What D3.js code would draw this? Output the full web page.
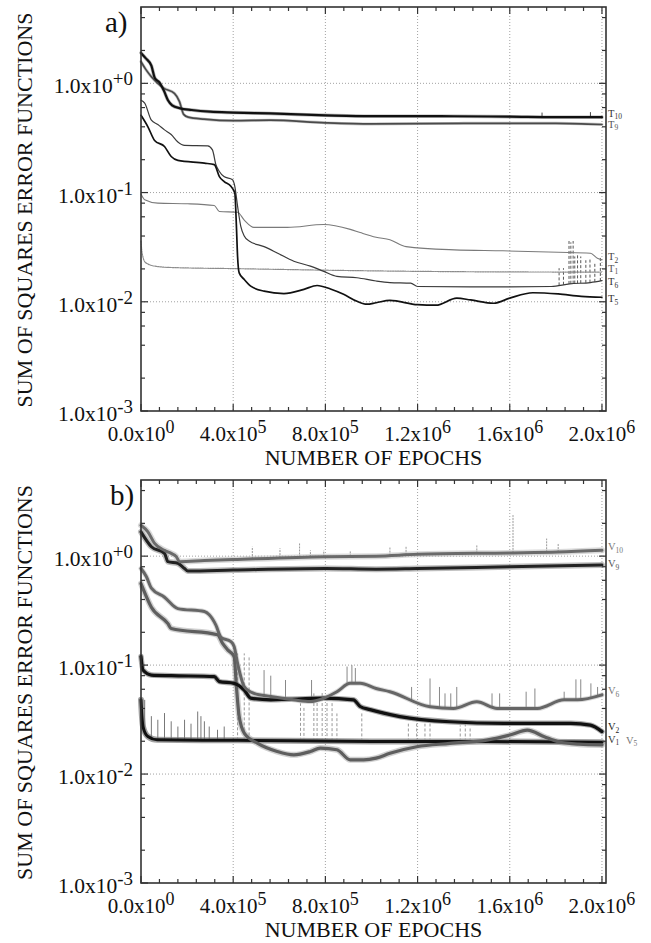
<!doctype html>
<html>
<head>
<meta charset="utf-8">
<script src="https://d3js.org/d3.v7.min.js"></script>
<style>
    body { margin: 0; background: #fff; }
    svg text { fill: #111; }
    .grid line { stroke: #8a8a8a; stroke-width: 0.8; stroke-dasharray: 1,2; }
    .frame { fill: none; stroke: #333; stroke-width: 1.6; }
    .tick { stroke: #333; stroke-width: 1.2; }
    .curve { fill: none; stroke-linejoin: round; stroke-linecap: round; }
</style>
</head>
<body>
<svg width="651" height="943"></svg>
<script>
// ---- axis ticks / labels ----
var xTickValues = [0, 4e5, 8e5, 1.2e6, 1.6e6, 2e6];
var xTickMantissa = ["0.0", "4.0", "8.0", "1.2", "1.6", "2.0"];
var xTickExp = ["0", "5", "5", "6", "6", "6"];
var yTickValues = [1e-3, 1e-2, 1e-1, 1];
var yTickExp = ["-3", "-2", "-1", "+0"];

// ---- panel a: training errors [epoch, error] ----
var T10 = [[0,1.9],[2e4,1.7],[4.5e4,1.45],[6e4,1.12],[8e4,1.02],[1.0e5,0.85],[1.17e5,0.70],[1.35e5,0.63],[1.7e5,0.59],[2.2e5,0.57],[3e5,0.55],[4e5,0.54],[5.6e5,0.53],[8e5,0.51],[1.0e6,0.50],[1.3e6,0.50],[1.6e6,0.495],[1.8e6,0.49],[2e6,0.49]];
var T9 = [[0,1.58],[2e4,1.35],[4.5e4,1.15],[7.3e4,1.0],[1.0e5,0.9],[1.45e5,0.81],[1.67e5,0.68],[1.85e5,0.52],[2.05e5,0.49],[2.75e5,0.47],[4e5,0.455],[5.6e5,0.46],[8e5,0.435],[1.0e6,0.425],[1.4e6,0.43],[1.8e6,0.43],[2e6,0.42]];
var T2 = [[0,0.097],[1.6e4,0.086],[7.3e4,0.080],[2.03e5,0.079],[3.18e5,0.076],[3.4e5,0.067],[4.19e5,0.066],[4.48e5,0.056],[4.9e5,0.048],[6.35e5,0.048],[7.93e5,0.051],[9.08e5,0.046],[9.51e5,0.043],[1.02e6,0.039],[1.08e6,0.037],[1.15e6,0.032],[1.36e6,0.0299],[1.57e6,0.0293],[1.81e6,0.0284],[1.95e6,0.0278],[1.98e6,0.025],[2e6,0.0242]];
var T1 = [[0,0.036],[3e3,0.030],[8e3,0.026],[1.5e4,0.0235],[3e4,0.0222],[6e4,0.0212],[1.3e5,0.0206],[4.2e5,0.0201],[1.0e6,0.0192],[1.5e6,0.0188],[2e6,0.0187]];
var T6 = [[0,0.70],[1.6e4,0.66],[4.5e4,0.46],[7.3e4,0.42],[1.02e5,0.375],[1.31e5,0.34],[1.6e5,0.29],[1.89e5,0.27],[2.9e5,0.268],[3.1e5,0.246],[3.25e5,0.18],[3.4e5,0.156],[3.6e5,0.14],[3.97e5,0.131],[4.07e5,0.114],[4.19e5,0.075],[4.33e5,0.049],[4.48e5,0.040],[4.69e5,0.036],[5.34e5,0.032],[5.91e5,0.028],[6.63e5,0.0235],[7.35e5,0.0212],[7.93e5,0.019],[8.5e5,0.0171],[9.37e5,0.0166],[1.02e6,0.0155],[1.08e6,0.015],[1.17e6,0.0148],[1.2e6,0.0138],[1.43e6,0.0137],[1.6e6,0.0137],[1.78e6,0.0138],[1.86e6,0.0146],[1.95e6,0.015],[2e6,0.0156]];
var T5 = [[0,0.51],[3e4,0.40],[5.9e4,0.30],[1.02e5,0.264],[1.31e5,0.214],[1.6e5,0.197],[2.75e5,0.186],[3.18e5,0.18],[3.4e5,0.14],[3.61e5,0.126],[3.9e5,0.114],[4.07e5,0.099],[4.14e5,0.049],[4.19e5,0.026],[4.26e5,0.0184],[4.48e5,0.016],[4.76e5,0.0139],[5.34e5,0.0125],[6.2e5,0.0119],[7.07e5,0.013],[7.64e5,0.0141],[8.22e5,0.0131],[8.79e5,0.0117],[9.37e5,0.0101],[9.8e5,0.0095],[1.02e6,0.0098],[1.08e6,0.0103],[1.2e6,0.0094],[1.28e6,0.0093],[1.37e6,0.0108],[1.43e6,0.0104],[1.53e6,0.0097],[1.6e6,0.0108],[1.7e6,0.0121],[1.81e6,0.0118],[1.91e6,0.0112],[2e6,0.011]];
// spikes [epoch, top]
var T6_SPIKES = [[1.814e6,0.0203],[1.833e6,0.0203],[1.857e6,0.036],[1.865e6,0.035],[1.875e6,0.036],[1.882e6,0.026],[1.894e6,0.027],[1.908e6,0.026],[1.93e6,0.024],[1.948e6,0.0245],[1.969e6,0.023],[1.993e6,0.026]];
var T10_SPIKES = [[1.74e6,0.54],[1.95e6,0.545]];

// ---- panel b: validation errors [epoch, error] ----
var V10 = [[0,1.92],[3e4,1.67],[5.9e4,1.31],[1.02e5,1.13],[1.31e5,1.06],[1.53e5,0.99],[1.67e5,0.89],[2.75e5,0.91],[4e5,0.93],[8e5,0.99],[1.02e6,1.0],[1.2e6,1.04],[1.6e6,1.07],[1.81e6,1.09],[2e6,1.13]];
var V9 = [[0,1.67],[4.5e4,1.22],[1.02e5,1.06],[1.17e5,0.89],[1.6e5,0.86],[1.89e5,0.77],[2.03e5,0.73],[4e5,0.745],[8e5,0.77],[1.02e6,0.76],[1.2e6,0.77],[1.6e6,0.80],[2e6,0.83]];
var V6 = [[0,0.77],[2.3e4,0.65],[4.5e4,0.51],[1.02e5,0.42],[1.6e5,0.33],[2.75e5,0.31],[2.96e5,0.29],[3.25e5,0.233],[3.47e5,0.18],[3.9e5,0.164],[4.04e5,0.148],[4.19e5,0.104],[4.48e5,0.0635],[4.9e5,0.055],[5.63e5,0.0515],[6.63e5,0.048],[7.35e5,0.0463],[7.93e5,0.0497],[8.5e5,0.057],[9.08e5,0.068],[9.51e5,0.068],[1.02e6,0.061],[1.08e6,0.057],[1.254e6,0.0414],[1.356e6,0.040],[1.457e6,0.046],[1.545e6,0.040],[1.72e6,0.040],[1.836e6,0.048],[1.894e6,0.048],[2e6,0.0533]];
var V5 = [[0,0.56],[4.5e4,0.34],[1.17e5,0.24],[1.31e5,0.217],[3.32e5,0.19],[3.54e5,0.158],[3.76e5,0.138],[4.04e5,0.12],[4.14e5,0.0635],[4.26e5,0.0337],[4.48e5,0.0238],[5.05e5,0.0192],[5.91e5,0.0161],[6.63e5,0.015],[7.35e5,0.0161],[7.78e5,0.0173],[8.5e5,0.0167],[9.08e5,0.0135],[9.66e5,0.0135],[1.02e6,0.0140],[1.08e6,0.0155],[1.196e6,0.0178],[1.34e6,0.0191],[1.5e6,0.0205],[1.6e6,0.0228],[1.676e6,0.0253],[1.75e6,0.022],[1.81e6,0.0198],[1.9e6,0.0188],[2e6,0.0185]];
var V2 = [[0,0.12],[8.6e3,0.090],[4.5e4,0.081],[1.31e5,0.080],[3.18e5,0.0785],[3.4e5,0.0706],[4.04e5,0.068],[4.48e5,0.059],[4.76e5,0.0497],[5.63e5,0.048],[7.93e5,0.0497],[9.22e5,0.048],[9.51e5,0.0417],[9.94e5,0.039],[1.123e6,0.0337],[1.34e6,0.0302],[1.574e6,0.0292],[1.865e6,0.0292],[1.95e6,0.0281],[2e6,0.0245]];
var V1 = [[0,0.048],[4e3,0.034],[9e3,0.027],[3e4,0.0221],[7e4,0.0206],[4.2e5,0.0204],[1.0e6,0.0199],[1.5e6,0.0199],[2e6,0.0196]];
// spikes [epoch, top]
var V10_SPIKES = [[4.83e5,1.22],[6.03e5,1.18],[6.88e5,1.31],[7.35e5,1.13],[7.93e5,1.13],[9.08e5,1.13],[1.08e6,1.22],[1.15e6,1.22],[1.457e6,1.26],[1.614e6,2.38],[1.76e6,1.45],[1.81e6,1.32]];
var V6_SPIKES = [[5.34e5,0.090],[5.63e5,0.080],[6.27e5,0.073],[7.4e5,0.073],[8.94e5,0.097],[9.15e5,0.10],[9.3e5,0.094],[1.174e6,0.063],[1.254e6,0.0754],[1.295e6,0.063],[1.319e6,0.055],[1.344e6,0.055],[1.37e6,0.063],[1.523e6,0.055],[1.556e6,0.055],[1.671e6,0.057],[1.709e6,0.061],[1.836e6,0.057],[1.887e6,0.074],[1.908e6,0.074],[1.952e6,0.068],[1.981e6,0.063]];
var V5_SPIKES = [[4.19e5,0.128],[4.48e5,0.128],[4.69e5,0.12],[6.92e5,0.0446],[7.07e5,0.042],[7.5e5,0.055],[7.64e5,0.048],[7.86e5,0.057],[8.07e5,0.048],[8.29e5,0.045],[8.5e5,0.036],[9.58e5,0.036],[1.16e6,0.029],[1.196e6,0.031],[1.232e6,0.029],[1.254e6,0.031],[1.385e6,0.028],[1.407e6,0.031],[1.428e6,0.027]];
var V1_SPIKES = [[1.6e4,0.048],[4.5e4,0.034],[7.3e4,0.0315],[1.02e5,0.0363],[1.31e5,0.0305],[1.6e5,0.0273],[1.89e5,0.0315],[2.17e5,0.029],[2.46e5,0.0375],[2.6e5,0.034],[2.75e5,0.0305],[2.96e5,0.0273],[3.32e5,0.0255],[3.61e5,0.0273]];

var FONT = "'Liberation Serif', 'Times New Roman', serif";
var svg = d3.select("svg");

// value of a curve at an epoch (log-linear between read points), used for spike bases
function valueAt(series, e) {
    var i = d3.bisector(function(d) { return d[0]; }).left(series, e);
    if (i <= 0) return series[0][1];
    if (i >= series.length) return series[series.length - 1][1];
    var a = series[i - 1], b = series[i], t = (e - a[0]) / (b[0] - a[0]);
    return Math.pow(10, Math.log10(a[1]) + t * (Math.log10(b[1]) - Math.log10(a[1])));
}

function drawPanel(p) {
    var x = d3.scaleLinear().domain([0, 2.0175e6]).range([141, 606]);
    var y = d3.scaleLog().domain([1e-3, 5]).range([p.bottom, p.top]);
    var g = svg.append("g");

    // grid
    var grid = g.append("g").attr("class", "grid");
    grid.selectAll(".gx").data(xTickValues.slice(1)).enter().append("line")
        .attr("x1", function(d) { return x(d); }).attr("x2", function(d) { return x(d); })
        .attr("y1", p.top).attr("y2", p.bottom);
    grid.selectAll(".gy").data(yTickValues.slice(1)).enter().append("line")
        .attr("x1", 141).attr("x2", 606)
        .attr("y1", function(d) { return y(d); }).attr("y2", function(d) { return y(d); });

    var line = d3.line()
        .x(function(d) { return x(d[0]); })
        .y(function(d) { return y(d[1]); })
        .curve(d3.curveMonotoneX);

    // halos (fuzz of noisy curves)
    p.series.forEach(function(s) {
        if (!s.halo) return;
        g.append("path").attr("class", "curve").attr("d", line(s.data))
            .attr("stroke", s.halo).attr("stroke-width", s.haloWidth).attr("opacity", 0.55);
    });

    // spikes
    p.spikes.forEach(function(sp) {
        g.selectAll(null).data(sp.data).enter().append("line")
            .attr("x1", function(d) { return x(d[0]); })
            .attr("x2", function(d) { return x(d[0]); })
            .attr("y1", function(d) { return y(valueAt(sp.base, d[0])); })
            .attr("y2", function(d) { return y(d[1]); })
            .attr("stroke", sp.color).attr("stroke-width", sp.width)
            .attr("stroke-dasharray", sp.dash || null);
    });

    // curves
    p.series.forEach(function(s) {
        g.append("path").attr("class", "curve").attr("d", line(s.data))
            .attr("stroke", s.color).attr("stroke-width", s.width)
            .attr("stroke-dasharray", s.dash || null);
    });

    // frame and inward ticks
    g.append("rect").attr("class", "frame")
        .attr("x", 141).attr("y", p.top).attr("width", 465).attr("height", p.bottom - p.top);

    var xMinor = d3.range(0, 2.0001e6, 8e4);
    var yMinor = [];
    [1e-3, 1e-2, 1e-1, 1].forEach(function(dec) {
        [2, 4, 6, 8].forEach(function(m) { if (dec * m < 5) yMinor.push(dec * m); });
    });
    var ticks = g.append("g");
    xMinor.forEach(function(v) {
        var len = xTickValues.indexOf(v) >= 0 ? 7 : 4;
        ticks.append("line").attr("class", "tick").attr("x1", x(v)).attr("x2", x(v))
            .attr("y1", p.bottom).attr("y2", p.bottom - len);
        ticks.append("line").attr("class", "tick").attr("x1", x(v)).attr("x2", x(v))
            .attr("y1", p.top).attr("y2", p.top + len);
    });
    yTickValues.concat(yMinor).forEach(function(v) {
        var len = yTickValues.indexOf(v) >= 0 ? 7 : 4;
        ticks.append("line").attr("class", "tick").attr("x1", 141).attr("x2", 141 + len)
            .attr("y1", y(v)).attr("y2", y(v));
        ticks.append("line").attr("class", "tick").attr("x1", 606).attr("x2", 606 - len)
            .attr("y1", y(v)).attr("y2", y(v));
    });

    // x tick labels
    xTickValues.forEach(function(v, i) {
        var t = g.append("text").attr("x", x(v)).attr("y", p.bottom + 30)
            .attr("text-anchor", "middle")
            .style("font-family", FONT).style("font-size", "21px");
        t.append("tspan").text(xTickMantissa[i] + "x10");
        t.append("tspan").attr("dy", -8).style("font-size", "18px").text(xTickExp[i]);
    });
    // y tick labels
    yTickValues.forEach(function(v, i) {
        var t = g.append("text").attr("x", 133).attr("y", y(v) + 10)
            .attr("text-anchor", "end")
            .style("font-family", FONT).style("font-size", "21.5px");
        t.append("tspan").text("1.0x10");
        t.append("tspan").attr("dy", -8).style("font-size", "19px").text(yTickExp[i]);
    });

    // titles
    g.append("text").attr("x", 373.5).attr("y", p.bottom + 54)
        .attr("text-anchor", "middle")
        .style("font-family", FONT).style("font-size", "22px").text("NUMBER OF EPOCHS");
    g.append("text")
        .attr("transform", "translate(32," + ((p.top + p.bottom) / 2 + 1) + ") rotate(-90)")
        .attr("text-anchor", "middle")
        .style("font-family", FONT).style("font-size", "22px")
        .text("SUM OF SQUARES ERROR FUNCTIONS");
    g.append("text").attr("x", p.tagX).attr("y", p.top + 25)
        .style("font-family", FONT).style("font-size", "29px").text(p.tag);

    // curve names at the right
    p.labels.forEach(function(l) {
        var t = g.append("text").attr("x", l.x || 608).attr("y", y(l.v) + 3.5)
            .style("font-family", FONT).style("font-size", "10.5px").style("fill", l.color);
        t.append("tspan").text(l.name);
        t.append("tspan").attr("dy", 2.5).style("font-size", "7.5px").text(l.sub);
    });
}

drawPanel({
    top: 7, bottom: 411, tag: "a)", tagX: 105,
    series: [
        {data: T1, color: "#8c8c8c", width: 1.2, dash: "1.5,1"},
        {data: T2, color: "#7a7a7a", width: 1.1},
        {data: T6, color: "#3a3a3a", width: 1.2},
        {data: T5, color: "#111", width: 1.7},
        {data: T9, color: "#4a4a4a", width: 1.7, halo: "#999", haloWidth: 3},
        {data: T10, color: "#111", width: 2.2, halo: "#777", haloWidth: 3.5}
    ],
    spikes: [
        {data: T6_SPIKES, base: T6, color: "#444", width: 0.9, dash: "3,2"},
        {data: T10_SPIKES, base: T10, color: "#333", width: 0.9}
    ],
    labels: [
        {name: "T", sub: "10", v: 0.53, color: "#333"},
        {name: "T", sub: "9", v: 0.42, color: "#555"},
        {name: "T", sub: "2", v: 0.0258, color: "#444"},
        {name: "T", sub: "1", v: 0.0203, color: "#555"},
        {name: "T", sub: "6", v: 0.0153, color: "#333"},
        {name: "T", sub: "5", v: 0.0107, color: "#333"}
    ]
});

drawPanel({
    top: 480, bottom: 883, tag: "b)", tagX: 110,
    series: [
        {data: V1, color: "#111", width: 3, halo: "#555", haloWidth: 6},
        {data: V5, color: "#5e5e5e", width: 3.2, halo: "#aaa", haloWidth: 6},
        {data: V2, color: "#111", width: 3.2, halo: "#666", haloWidth: 5.5},
        {data: V6, color: "#666", width: 3, halo: "#bbb", haloWidth: 5},
        {data: V9, color: "#222", width: 3, halo: "#888", haloWidth: 6},
        {data: V10, color: "#6a6a6a", width: 3, halo: "#bbb", haloWidth: 6}
    ],
    spikes: [
        {data: V10_SPIKES, base: V10, color: "#999", width: 1, dash: "2,1"},
        {data: V6_SPIKES, base: V6, color: "#888", width: 1},
        {data: V5_SPIKES, base: V1, color: "#999", width: 1, dash: "3,2"},
        {data: V1_SPIKES, base: V1, color: "#777", width: 1}
    ],
    labels: [
        {name: "V", sub: "10", v: 1.22, color: "#777"},
        {name: "V", sub: "9", v: 0.853, color: "#555"},
        {name: "V", sub: "6", v: 0.058, color: "#777"},
        {name: "V", sub: "2", v: 0.0272, color: "#222"},
        {name: "V", sub: "1", v: 0.0208, color: "#333"},
        {name: "V", sub: "5", v: 0.0205, color: "#777", x: 626}
    ]
});
</script>
</body>
</html>
